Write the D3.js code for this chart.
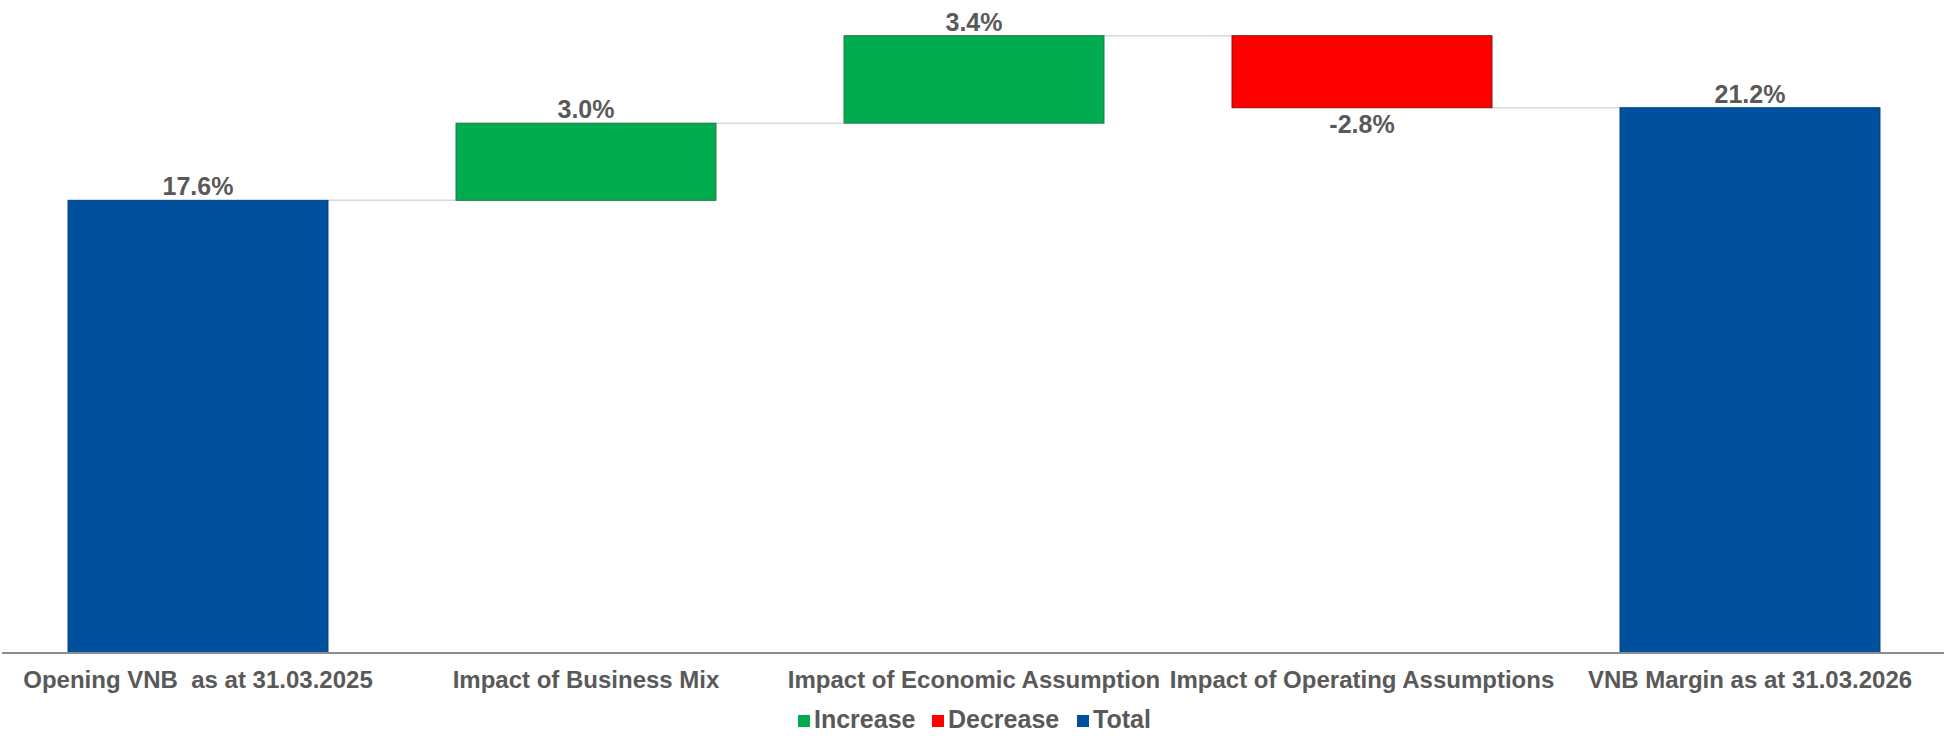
<!DOCTYPE html>
<html>
<head>
<meta charset="utf-8">
<script src="https://cdn.jsdelivr.net/npm/d3@7"></script>
<style>
  html, body { margin: 0; padding: 0; background: #fff; }
  svg text { font-family: 'Liberation Sans', Arial, sans-serif; font-weight: bold; fill: #595959; white-space: pre; }
</style>
</head>
<body>
<svg id="chart" width="1944" height="736"></svg>
<script>
'use strict';

// waterfall data
const categories = [
    'Opening VNB  as at 31.03.2025',
    'Impact of Business Mix',
    'Impact of Economic Assumption',
    'Impact of Operating Assumptions',
    'VNB Margin as at 31.03.2026'
];
const values = [17.6, 3.0, 3.4, -2.8, 21.2];
const kinds = ['Total', 'Increase', 'Increase', 'Decrease', 'Total'];
const legendLabels = ['Increase', 'Decrease', 'Total'];

const fillColour = { Increase: '#00ac4f', Decrease: '#ff0000', Total: '#00509e' };
const strokeColour = { Increase: '#1f7a44', Decrease: '#8a1010', Total: '#003f7f' };

const svg = d3.select('#chart');

const x = d3.scaleBand()
    .domain(categories)
    .range([4, 1944])
    .paddingInner(0.33)
    .paddingOuter(0.165);
const y = d3.scaleLinear().domain([0, 25]).range([653, 10]);

// running start / end of each step
let level = 0;
const steps = categories.map((c, i) => {
    let start, end;
    if (kinds[i] === 'Total') {
        start = 0;
        end = values[i];
    } else {
        start = level;
        end = level + values[i];
    }
    level = end;
    return { cat: c, value: values[i], kind: kinds[i], start, end };
});

// connector lines between bars
svg.append('g')
    .selectAll('line')
    .data(steps.slice(0, -1))
    .enter()
    .append('line')
    .attr('x1', d => x(d.cat) + x.bandwidth())
    .attr('x2', (d, i) => x(steps[i + 1].cat))
    .attr('y1', d => y(d.end))
    .attr('y2', d => y(d.end))
    .style('stroke', '#d9d9d9')
    .style('stroke-width', 1.5);

svg.append('g')
    .selectAll('rect')
    .data(steps)
    .enter()
    .append('rect')
    .attr('x', d => x(d.cat))
    .attr('width', x.bandwidth())
    .attr('y', d => y(Math.max(d.start, d.end)))
    .attr('height', d => Math.abs(y(d.start) - y(d.end)))
    .style('fill', d => fillColour[d.kind])
    .style('stroke', d => strokeColour[d.kind])
    .style('stroke-width', 1);

// value labels
svg.append('g')
    .selectAll('text')
    .data(steps)
    .enter()
    .append('text')
    .attr('x', d => x(d.cat) + x.bandwidth() / 2)
    .attr('y', d => d.value < 0 ? y(d.end) + 25 : y(d.end) - 5)
    .attr('text-anchor', 'middle')
    .style('font-size', '25px')
    .text(d => d.value.toFixed(1) + '%');

// x axis
const xAxis = svg.append('g')
    .attr('transform', `translate(0,${y(0)})`)
    .call(d3.axisBottom(x).tickSize(0).tickPadding(0));
xAxis.attr('font-family', null).attr('font-size', null);
xAxis.select('.domain').attr('d', 'M2,0H1944').style('stroke', '#8c8c8c').style('stroke-width', 2);
xAxis.selectAll('.tick text')
    .attr('dy', null)
    .attr('y', 35)
    .attr('xml:space', 'preserve')
    .style('font-size', '24px')
    .style('fill', '#595959');

// legend
const legendX = [798, 932, 1077];
const legend = svg.append('g')
    .selectAll('g')
    .data(legendLabels)
    .enter()
    .append('g')
    .attr('transform', (d, i) => `translate(${legendX[i]},715)`);
legend.append('rect')
    .attr('width', 12)
    .attr('height', 12)
    .style('fill', d => fillColour[d]);
legend.append('text')
    .attr('x', 16)
    .attr('y', 13)
    .style('font-size', '25px')
    .text(d => d);
</script>
</body>
</html>
